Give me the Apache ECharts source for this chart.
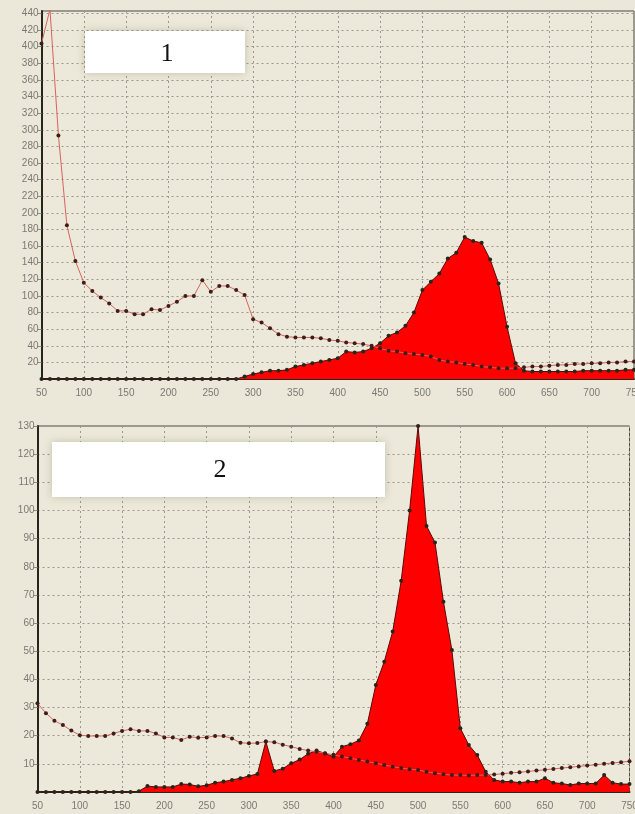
<!DOCTYPE html>
<html>
<head>
<meta charset="utf-8">
<script src="https://cdn.jsdelivr.net/npm/echarts@6/dist/echarts.min.js"></script>
<style>
html,body{margin:0;padding:0;background:#ebe8da;}
#c{width:635px;height:814px;}
</style>
</head>
<body>
<div id="c"></div>
<script>
// wavelengths (x values), shared by both panels
const wavelengths = [50,60,70,80,90,100,110,120,130,140,150,160,170,180,190,200,210,220,230,240,250,260,270,280,290,300,310,320,330,340,350,360,370,380,390,400,410,420,430,440,450,460,470,480,490,500,510,520,530,540,550,560,570,580,590,600,610,620,630,640,650,660,670,680,690,700,710,720,730,740,750];

// Panel 1
const p1Line = [404,445,293,185,142,116,106,98,91,82,82,78,78,84,83,88,93,100,100,119,105,112,112,107,101,72,68,61,54,51,50,50,50,49,47,46,44,43,42,40,37,34,33,31,30,29,27,23,21,20,18,17,15,14,13,13,13,14,15,15,16,17,17,18,18,19,19,20,20,21,21];
const p1Area = [0,0,0,0,0,0,0,0,0,0,0,0,0,0,0,0,0,0,0,0,0,0,0,0,3,6,8,10,10,11,15,17,19,21,23,25,33,32,33,37,43,52,56,64,80,107,117,127,145,152,171,166,164,144,115,63,19,10,9,9,9,9,9,9,10,10,10,10,10,11,11];

// Panel 2
const p2Line = [31.5,28,25.3,23.8,21.8,20.2,19.9,19.9,19.9,20.8,21.7,22.3,21.7,21.7,20.8,19.4,19.4,18.5,19.6,19.3,19.4,19.9,19.9,19.0,17.5,17.3,17.4,17.9,17.7,16.8,16.1,15.3,14.7,14.3,13.8,13.2,12.6,12.0,11.4,10.8,10.2,9.6,9.0,8.5,8.1,7.8,7.2,6.7,6.3,6.0,6.0,5.9,6.0,6.0,6.2,6.5,6.8,7.0,7.3,7.6,7.9,8.2,8.5,8.8,9.1,9.4,9.7,10.0,10.3,10.6,10.9];
const p2Area = [0,0,0,0,0,0,0,0,0,0,0,0,0.3,2.1,1.8,1.8,1.8,2.8,2.7,2.0,2.4,3.3,3.7,4.3,4.9,5.7,6.4,17.9,7.5,8.3,10.2,11.5,13.6,14.7,13.7,12.5,16.1,17.0,18.3,24.2,38,46.3,57,75,100,130,94.5,88.6,67.6,50.4,22.6,16.7,13.1,7.2,4.3,3.7,3.7,3.3,3.7,3.7,4.9,3.3,3.0,2.5,3.0,3.0,3.0,6.0,3.3,2.8,2.8];

const panelLabels = ['1','2'];

function pairs(ys){ return wavelengths.map((x,i)=>[x, ys[i]]); }

const chart = echarts.init(document.getElementById('c'), null, {renderer:'canvas'});

const labelStyle = {color:'#7a7a72', fontSize:10, fontFamily:'Liberation Sans, Arial, sans-serif'};
const splitStyle = {show:true, lineStyle:{color:'#9a988c', width:1, type:[2,3]}};
const axisLineStyle = {show:true, onZero:false, lineStyle:{color:'#26261c', width:2}};

function xAx(idx){
  return {type:'value', gridIndex:idx, min:50, max:750, interval:50,
    axisLine:axisLineStyle, axisTick:{show:false},
    axisLabel:Object.assign({margin:9, showMinLabel:true, showMaxLabel:true, hideOverlap:false}, labelStyle),
    splitLine:splitStyle};
}
function yAx(idx, max, interval){
  return {type:'value', gridIndex:idx, min:0, max:max, interval:interval,
    axisLine:axisLineStyle, axisTick:{show:true, length:4, lineStyle:{color:'#8e8c80'}},
    axisLabel:Object.assign({margin:3, showMinLabel:false, showMaxLabel: idx===1}, labelStyle),
    splitLine:splitStyle};
}

function lineSeries(idx, ys){
  return {type:'line', xAxisIndex:idx, yAxisIndex:idx, data:pairs(ys), z:4,
    symbol:'circle', symbolSize:4, showAllSymbol:true, clip:true,
    lineStyle:{color:'#d9625c', width:1},
    itemStyle:{color:'#3b1e1a', borderWidth:0}};
}
function areaSeries(idx, ys){
  return {type:'line', xAxisIndex:idx, yAxisIndex:idx, data:pairs(ys), z:3,
    symbol:'circle', symbolSize:4, showAllSymbol:true, clip:true,
    lineStyle:{color:'#5a0a06', width:1},
    itemStyle:{color:'#26261a', borderWidth:0},
    areaStyle:{color:'#ff0000', opacity:1}};
}

chart.setOption({
  animation:false,
  backgroundColor:'#ebe8da',
  grid:[
    {left:41.5, right:1, top:11, bottom:435, show:true, backgroundColor:'#ece9da', borderColor:'#4e4d3e', borderWidth:1, containLabel:false, outerBoundsMode:'none'},
    {left:37.5, right:5.5, top:426, bottom:22, show:true, backgroundColor:'#ece9da', borderColor:'#4e4d3e', borderWidth:1, containLabel:false, outerBoundsMode:'none'}
  ],
  xAxis:[xAx(0), xAx(1)],
  yAxis:[yAx(0, 443, 20), yAx(1, 130, 10)],
  series:[
    areaSeries(0, p1Area), lineSeries(0, p1Line),
    areaSeries(1, p2Area), lineSeries(1, p2Line)
  ],
  graphic:[
    {type:'rect', z:100, shape:{x:85, y:31, width:160, height:42},
      style:{fill:'#ffffff', shadowBlur:8, shadowColor:'rgba(120,115,90,0.35)'}},
    {type:'text', z:101, x:167, y:54,
      style:{text:panelLabels[0], fill:'#111', font:'26px "Liberation Serif", serif', align:'center', verticalAlign:'middle'}},
    {type:'rect', z:100, shape:{x:52, y:442, width:333, height:55},
      style:{fill:'#ffffff', shadowBlur:8, shadowColor:'rgba(120,115,90,0.35)'}},
    {type:'text', z:101, x:220, y:470,
      style:{text:panelLabels[1], fill:'#111', font:'26px "Liberation Serif", serif', align:'center', verticalAlign:'middle'}}
  ]
});
</script>
</body>
</html>
